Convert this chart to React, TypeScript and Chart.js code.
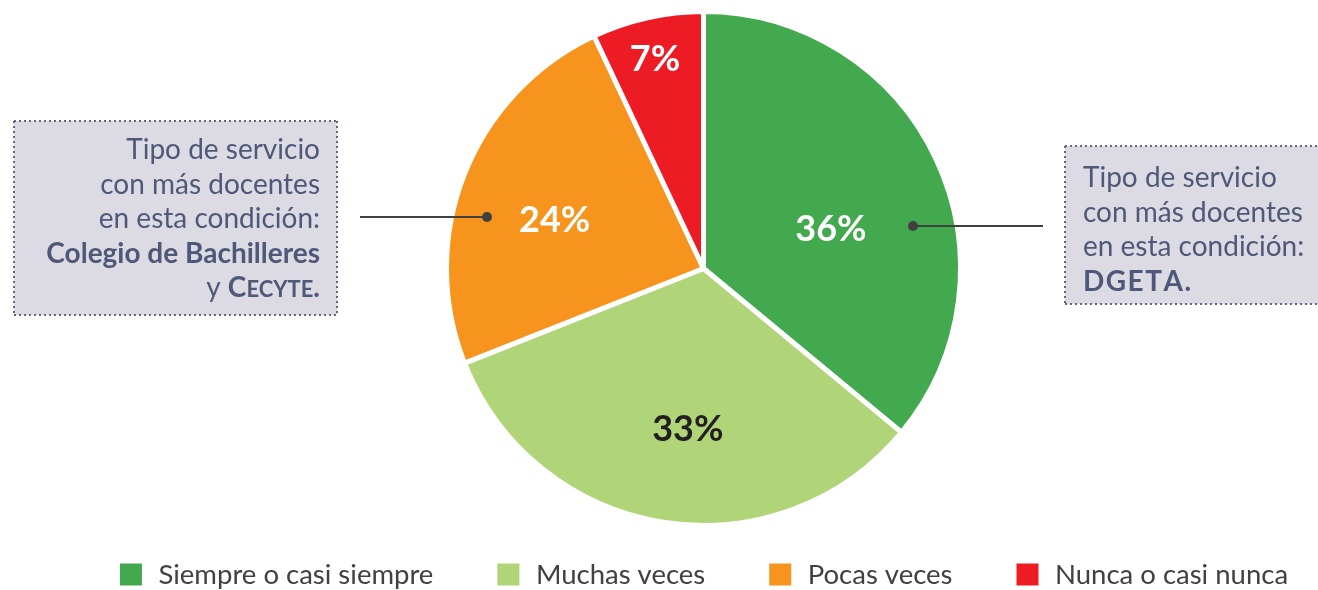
import React, { useEffect, useRef } from "react";
import { Chart, registerables } from "chart.js";

Chart.register(...registerables);

const categories = ["Siempre o casi siempre", "Muchas veces", "Pocas veces", "Nunca o casi nunca"];
const values = [36, 33, 24, 7];
const sliceColors = ["#43a94e", "#b0d578", "#f7941e", "#ed1c24"];
const valueLabelColors = ["#ffffff", "#231f20", "#ffffff", "#ffffff"];
// label placement relative to each slice (angle shift in degrees, radius fraction)
const labelAngleShift = [7.7, -3.4, -3.2, -0.4];
const labelRadiusFrac = [0.52, 0.625, 0.61, 0.84];

type Seg = { t: string; b?: boolean; small?: boolean; ls?: number };
const leftNote: Seg[][] = [
  [{ t: "Tipo de servicio" }],
  [{ t: "con más docentes" }],
  [{ t: "en esta condición:" }],
  [{ t: "Colegio de Bachilleres", b: true }],
  [{ t: "y " }, { t: "C", b: true }, { t: "ECYTE", b: true, small: true }, { t: ".", b: true }],
];
const rightNote: Seg[][] = [
  [{ t: "Tipo de servicio" }],
  [{ t: "con más docentes" }],
  [{ t: "en esta condición:" }],
  [{ t: "DGETA.", b: true, ls: 1.5 }],
];

const FONT = "Lato, 'Noto Sans', sans-serif";
const NOTE_SIZE = 28;
const NOTE_COLOR = "#4f5878";
const BOX_FILL = "#dcdbe4";
const DOT_COLOR = "#5f6682";

function segFont(s: Seg) {
  const size = s.small ? Math.round(NOTE_SIZE * 0.8) : NOTE_SIZE;
  return `${s.b ? "bold " : ""}${size}px ${FONT}`;
}
function segWidth(ctx: CanvasRenderingContext2D, s: Seg) {
  ctx.font = segFont(s);
  if (!s.ls) return ctx.measureText(s.t).width;
  let w = 0;
  for (const ch of s.t) w += ctx.measureText(ch).width + s.ls;
  return w;
}
function drawLine(ctx: CanvasRenderingContext2D, segs: Seg[], x: number, y: number, align: "left" | "right") {
  let total = 0;
  for (const s of segs) total += segWidth(ctx, s);
  let cx = align === "right" ? x - total : x;
  ctx.textAlign = "left";
  ctx.textBaseline = "alphabetic";
  for (const s of segs) {
    ctx.font = segFont(s);
    if (s.ls) {
      for (const ch of s.t) {
        ctx.fillText(ch, cx, y);
        cx += ctx.measureText(ch).width + s.ls;
      }
    } else {
      ctx.fillText(s.t, cx, y);
      cx += ctx.measureText(s.t).width;
    }
  }
}
function dottedRect(ctx: CanvasRenderingContext2D, x: number, y: number, w: number, h: number, sides: boolean[]) {
  ctx.save();
  ctx.fillStyle = BOX_FILL;
  ctx.fillRect(x, y, w, h);
  ctx.strokeStyle = DOT_COLOR;
  ctx.lineWidth = 2;
  ctx.setLineDash([2, 3]);
  const pts = [
    [x, y, x + w, y],
    [x + w, y, x + w, y + h],
    [x, y + h, x + w, y + h],
    [x, y, x, y + h],
  ];
  pts.forEach((p, i) => {
    if (!sides[i]) return;
    ctx.beginPath();
    ctx.moveTo(p[0], p[1]);
    ctx.lineTo(p[2], p[3]);
    ctx.stroke();
  });
  ctx.restore();
}
function connector(ctx: CanvasRenderingContext2D, x1: number, x2: number, y: number, dotX: number) {
  ctx.save();
  ctx.strokeStyle = "#404041";
  ctx.fillStyle = "#404041";
  ctx.lineWidth = 2.2;
  ctx.beginPath();
  ctx.moveTo(x1, y);
  ctx.lineTo(x2, y);
  ctx.stroke();
  ctx.beginPath();
  ctx.arc(dotX, y, 5, 0, Math.PI * 2);
  ctx.fill();
  ctx.restore();
}

const overlayPlugin = {
  id: "overlay",
  afterDatasetsDraw(chart: any) {
    const ctx: CanvasRenderingContext2D = chart.ctx;
    const meta = chart.getDatasetMeta(0);
    ctx.save();
    ctx.font = `bold 36px ${FONT}`;
    ctx.textAlign = "center";
    ctx.textBaseline = "middle";
    meta.data.forEach((arc: any, i: number) => {
      const p = arc.getProps(["x", "y", "startAngle", "endAngle", "outerRadius"], true);
      const a = (p.startAngle + p.endAngle) / 2 + (labelAngleShift[i] * Math.PI) / 180;
      const r = p.outerRadius * labelRadiusFrac[i];
      ctx.fillStyle = valueLabelColors[i];
      ctx.fillText(`${values[i]}%`, p.x + r * Math.cos(a), p.y + r * Math.sin(a) + 1);
    });
    ctx.restore();
  },
  afterDraw(chart: any) {
    const ctx: CanvasRenderingContext2D = chart.ctx;
    ctx.save();
    // left note
    dottedRect(ctx, 14, 121, 323, 194, [true, true, true, true]);
    ctx.fillStyle = NOTE_COLOR;
    leftNote.forEach((l, i) => drawLine(ctx, l, 320, 159 + i * 34.5, "right"));
    // right note
    dottedRect(ctx, 1065, 146, 260, 158, [true, false, true, true]);
    ctx.fillStyle = NOTE_COLOR;
    rightNote.forEach((l, i) => drawLine(ctx, l, 1083, 187 + i * 34.5, "left"));
    connector(ctx, 360, 487, 217, 487);
    connector(ctx, 913, 1043, 226, 913);

    // legend
    const box = 22;
    const gapBoxText = 16.5;
    const gapItems = 64;
    ctx.font = `27.5px ${FONT}`;
    const widths = categories.map((c) => ctx.measureText(c).width);
    const total = widths.reduce((s, w) => s + box + gapBoxText + w, 0) + gapItems * (categories.length - 1);
    let x = 704 - total / 2;
    const yc = 574.5;
    categories.forEach((c, i) => {
      ctx.fillStyle = sliceColors[i];
      ctx.fillRect(x, yc - box / 2, box, box);
      x += box + gapBoxText;
      ctx.fillStyle = "#414042";
      ctx.textAlign = "left";
      ctx.textBaseline = "middle";
      ctx.fillText(c, x, yc + 1);
      x += widths[i] + gapItems;
    });
    ctx.restore();
  },
};

export default function App() {
  const ref = useRef<HTMLCanvasElement | null>(null);
  useEffect(() => {
    if (!ref.current) return;
    const chart = new Chart(ref.current, {
      type: "pie",
      data: {
        labels: categories,
        datasets: [
          {
            data: values,
            backgroundColor: sliceColors,
            borderColor: "#ffffff",
            borderWidth: 5,
          },
        ],
      },
      options: {
        responsive: false,
        animation: false,
        layout: { padding: { left: 444, right: 355, top: 9, bottom: 62 } },
        plugins: {
          legend: { display: false },
          tooltip: { enabled: false },
        },
      },
      plugins: [overlayPlugin],
    });
    return () => chart.destroy();
  }, []);
  return (
    <div style={{ position: "absolute", left: 0, top: 0, width: 1318, height: 590, background: "#ffffff" }}>
      <canvas ref={ref} width={1318} height={590} style={{ display: "block", width: 1318, height: 590 }} />
    </div>
  );
}
